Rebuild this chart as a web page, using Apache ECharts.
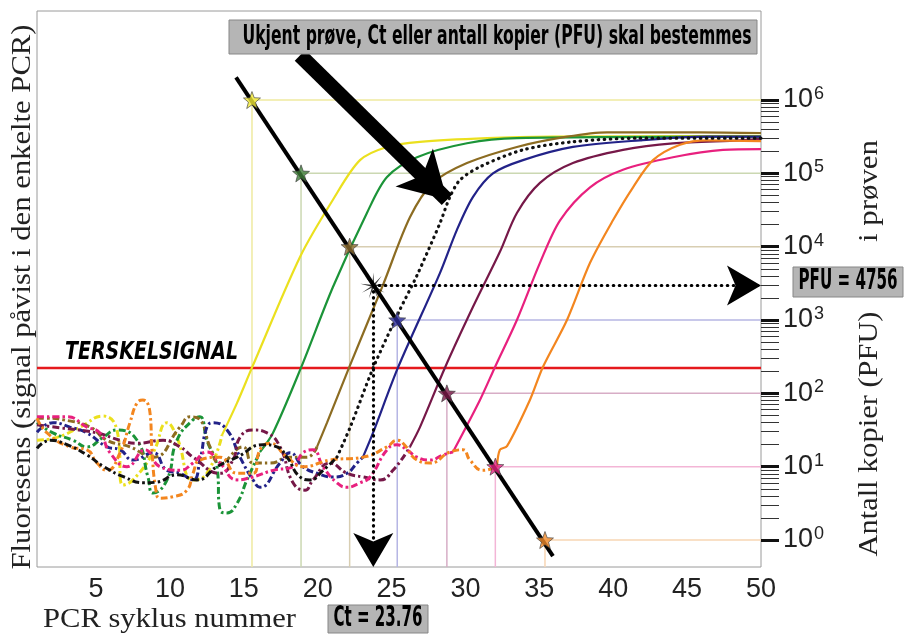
<!DOCTYPE html>
<html><head><meta charset="utf-8">
<script src="https://cdn.jsdelivr.net/npm/echarts@6/dist/echarts.min.js"></script>
<style>html,body{margin:0;padding:0;background:#fff}#c{width:906px;height:634px}</style>
</head><body><div id="c"></div>
<script>
// ================= DATA (cycle number, log10 of copies / fluorescence) =================
const cycleTicks = [5, 10, 15, 20, 25, 30, 35, 40, 45, 50];
const decadeTicks = [0, 1, 2, 3, 4, 5, 6];           // right axis: 10^0 .. 10^6
const stdLog = [6, 5, 4, 3, 2, 1, 0];                 // standards: 10^6 .. 10^0 copies
const stdCt = [15.55, 18.87, 22.16, 25.38, 28.74, 32.02, 35.38];
const unknownCt = 23.76;
const unknownLog = 3.47;
const thresholdLog = 2.345;
const stdLineCt = [14.47, 35.92];
const stdLineLog = [6.31, -0.22];
const bigArrowCt = [18.80, 28.75];
const bigArrowLog = [6.61, 4.64];

const yellowNoise = [[1.00,1.36],[2.35,1.40],[3.91,1.54],[5.47,1.69],[6.41,1.50],[6.82,0.75],[7.50,0.82],[8.85,1.19],[9.80,1.60],[10.47,1.40],[11.56,0.82],[12.50,0.91],[13.52,1.43]];
const yellowRise = [[13.52,1.43],[14.54,1.87],[15.55,2.35],[18.80,3.86],[21.03,4.64],[22.86,5.18],[24.69,5.36],[26.92,5.43],[31.46,5.48],[35.92,5.50],[50,5.51]];
const greenNoise = [[1.00,1.60],[2.08,1.46],[3.44,1.36],[4.38,1.27],[5.47,1.40],[6.41,1.50],[7.77,1.36],[8.51,0.86],[8.85,0.64],[9.80,0.82],[10.47,1.36],[11.56,1.64],[12.03,1.68],[12.50,1.36],[13.18,1.00],[13.38,0.41],[13.86,0.37],[14.54,0.50],[15.21,0.82],[16.09,1.20]];
const greenRise = [[16.09,1.20],[16.97,1.46],[18.87,2.35],[21.03,3.45],[23.33,4.46],[24.69,4.95],[26.72,5.22],[30.10,5.41],[33.48,5.48],[50,5.50]];
const brownNoise = [[1.00,1.66],[1.68,1.66],[2.76,1.64],[4.59,1.54],[5.74,1.36],[7.29,1.27],[8.85,1.13],[10.68,1.54],[11.35,1.68],[12.03,1.64],[12.71,1.27],[13.38,1.05],[14.94,1.27],[15.62,1.05],[16.77,1.05],[18.12,1.13],[19.27,1.13],[19.95,1.27]];
const brownRise = [[19.95,1.27],[20.63,1.60],[22.12,2.35],[24.42,3.48],[26.24,4.40],[27.80,4.87],[30.10,5.14],[33.48,5.36],[36.87,5.50],[39.58,5.56],[45.87,5.56],[50,5.55]];
const unknownNoise = [[1.00,1.25],[1.88,1.36],[3.03,1.30],[4.38,1.16],[5.53,1.00],[6.89,0.86],[8.24,0.78],[9.12,0.79],[10.47,0.89],[11.83,0.82],[13.18,1.00],[14.54,1.13],[16.30,1.30],[17.24,1.27],[17.92,1.13],[18.80,0.86],[19.48,0.82],[20.36,0.95],[21.30,1.13]];
const unknownRise = [[21.30,1.13],[22.18,1.53],[23.76,2.35],[25.56,3.14],[26.72,3.61],[28.27,4.32],[28.95,4.68],[29.63,4.91],[30.98,5.09],[33.89,5.32],[37.27,5.43],[41.81,5.48],[50,5.48]];
const blueNoise = [[1.00,1.47],[2.08,1.60],[3.23,1.54],[4.38,1.46],[5.74,1.27],[6.62,1.23],[7.50,1.09],[8.85,1.19],[9.80,0.95],[10.68,0.91],[11.56,0.82],[12.03,1.09],[12.50,1.54],[12.91,1.60],[13.86,1.50],[14.74,1.13],[15.62,0.82],[16.09,0.72],[17.45,1.05],[18.12,1.19],[19.00,1.00],[19.95,0.91],[21.03,0.86],[21.98,0.91],[22.66,1.05],[23.06,1.13]];
const blueRise = [[23.06,1.13],[23.74,1.46],[25.43,2.35],[28.27,3.64],[29.42,4.23],[30.51,4.68],[31.86,5.00],[33.89,5.18],[37.27,5.36],[41.81,5.45],[46.34,5.50],[50,5.50]];
const maroonNoise = [[1.00,1.57],[2.56,1.53],[5.06,1.46],[6.62,1.36],[7.77,1.32],[9.53,1.36],[10.68,1.27],[11.56,1.13],[13.38,0.91],[14.26,1.09],[14.74,1.40],[15.62,1.50],[16.57,1.46],[17.45,1.27],[18.33,0.78],[19.14,0.68],[19.68,0.82],[20.83,1.05],[21.98,0.91],[23.06,0.86],[24.21,0.82],[25.09,0.95],[26.24,1.27]];
const maroonRise = [[26.24,1.27],[26.92,1.54],[28.61,2.35],[30.51,3.18],[32.33,3.93],[33.48,4.46],[35.04,4.87],[37.27,5.14],[40.66,5.32],[44.04,5.41],[48.58,5.45],[50,5.47]];
const pinkNoise = [[1.00,1.68],[3.03,1.68],[4.38,1.54],[5.26,1.46],[5.94,1.19],[7.09,1.00],[8.31,1.23],[9.32,1.00],[10.68,0.95],[11.56,1.05],[12.50,1.20],[13.38,1.05],[14.54,0.82],[15.62,0.86],[16.97,0.95],[18.33,1.00],[19.00,1.19],[19.68,1.23],[20.36,1.00],[21.30,0.78],[21.98,0.72],[22.86,0.78],[23.54,0.86],[24.69,1.23],[25.36,1.30],[26.04,1.23],[26.72,1.13],[27.60,1.09],[28.48,1.16],[29.15,1.20]];
const pinkRise = [[29.15,1.20],[30.98,1.91],[32.00,2.36],[33.48,3.00],[35.04,3.78],[36.40,4.36],[38.43,4.81],[40.66,5.05],[44.04,5.22],[47.43,5.32],[50,5.33]];
const orangeNoise = [[1.00,1.66],[1.68,1.46],[3.23,1.27],[4.38,1.23],[5.06,1.05],[5.74,0.95],[6.62,1.19],[7.29,1.60],[7.77,1.87],[8.17,1.91],[8.65,1.73],[8.78,1.23],[9.05,0.68],[9.32,0.57],[10.20,0.59],[11.15,0.68],[11.56,0.91],[12.03,1.09],[13.38,1.13],[14.54,0.91],[15.62,0.91],[16.09,1.23],[16.77,1.32],[17.92,1.13],[19.00,1.00],[20.83,1.09],[23.06,1.13],[24.69,1.27],[25.36,1.36],[25.77,1.32],[26.72,1.09],[27.60,1.05],[28.95,1.20],[29.83,1.23],[30.30,1.09],[31.18,0.95],[32.13,1.00]];
const orangeRise = [[32.13,1.00],[32.33,1.23],[32.81,1.28],[34.36,1.91],[35.24,2.36],[36.87,3.00],[38.43,3.78],[39.98,4.36],[41.34,4.81],[42.69,5.18],[44.52,5.39],[46.34,5.45],[50,5.44]];

// ================= STYLE =================
const yMin = -0.368, yMax = 7.214, xMin = 1, xMax = 50;
const curves = [
  {c:'#ebe01e', noise:yellowNoise, rise:yellowRise},
  {c:'#1b9438', noise:greenNoise, rise:greenRise},
  {c:'#8c6c22', noise:brownNoise, rise:brownRise},
  {c:'#222288', noise:blueNoise, rise:blueRise},
  {c:'#761848', noise:maroonNoise, rise:maroonRise},
  {c:'#e8207e', noise:pinkNoise, rise:pinkRise},
  {c:'#f3861f', noise:orangeNoise, rise:orangeRise},
  {c:'#111111', noise:unknownNoise, rise:unknownRise, dotted:true}
];
const starColors = ['#f2ea36','#3f7d38','#8c6b2e','#2b2b98','#7a1a48','#e2207f','#f08a2a'];
const guideColors = ['#efeaa0','#cbd8b2','#d8ceb2','#b6b6e4','#d7adc6','#f3b5d6','#f8d6b4'];
const labelFont = "'Liberation Sans Narrow','Liberation Sans',Arial,sans-serif";
const serifFont = "'Liberation Serif','DejaVu Serif',serif";
const boxFont = "'DejaVu Sans Condensed','DejaVu Sans',sans-serif";

const starPath = 'path://M50 0 L62.34 33.01 L97.55 34.55 L69.97 56.49 L79.39 90.45 L50 71 L20.61 90.45 L30.03 56.49 L2.45 34.55 L37.66 33.01 Z';
function burst(n, R, r) {
  let d = '';
  for (let i = 0; i < 2 * n; i++) {
    const a = Math.PI * i / n - Math.PI / 2, rr = i % 2 ? r : R;
    d += (i ? 'L' : 'M') + (50 + rr * Math.cos(a)).toFixed(2) + ' ' + (50 + rr * Math.sin(a)).toFixed(2) + ' ';
  }
  return 'path://' + d + 'Z';
}
const minorTicks = [];
for (let n = 0; n < 6; n++) for (let k = 2; k <= 9; k++) minorTicks.push(n + Math.log10(k));

function arrowLine(from, to, size) {
  return [{coord:from, symbol:'none'}, {coord:to, symbol:'arrow', symbolSize:size}];
}

const series = [];
stdCt.forEach((ct, i) => series.push({
  type:'line', silent:true, symbol:'none', z:1,
  data:[[ct, yMin],[ct, stdLog[i]],[xMax, stdLog[i]]],
  lineStyle:{color:guideColors[i], width:1.5}
}));
series.push({type:'line', silent:true, symbol:'none', z:2,
  data:[[xMin, thresholdLog],[xMax, thresholdLog]], lineStyle:{color:'#e5191d', width:2.5}});
curves.forEach(cv => {
  series.push({type:'line', silent:true, symbol:'none', z:3, smooth:0.5, data:cv.noise,
    lineStyle:{color:cv.c, width:3, type:[7,3,2.5,3]}});
  series.push({type:'line', silent:true, symbol:'none', z:3, smooth:0.3, data:cv.rise,
    lineStyle: cv.dotted ? {color:cv.c, width:3.2, type:[0.5,5.5], cap:'round'} : {color:cv.c, width:2.2}});
});
series.push({type:'line', silent:true, symbol:'none', z:5,
  data:[[stdLineCt[0], stdLineLog[0]],[stdLineCt[1], stdLineLog[1]]],
  lineStyle:{color:'#000', width:4}});
series.push({type:'line', silent:true, data:[], z:6,
  markLine:{silent:true, animation:false, symbol:['none','arrow'], symbolSize:32,
    label:{show:false}, emphasis:{disabled:true},
    lineStyle:{color:'#000', width:3.2, type:[0.5,5.5], cap:'round'},
    data:[
      arrowLine([unknownCt, unknownLog], [xMax, unknownLog], [30, 34]),
      arrowLine([unknownCt, unknownLog], [unknownCt, yMin], [30, 34])
    ]}});
series.push({type:'scatter', silent:true, z:7, symbol:starPath, symbolSize:17,
  itemStyle:{borderColor:'#3a3a3a', borderWidth:0.8},
  data: stdCt.map((ct, i) => ({value:[ct, stdLog[i]], itemStyle:{color:starColors[i]}}))});
series.push({type:'scatter', silent:true, z:7, symbol:burst(9, 50, 9), symbolSize:26,
  itemStyle:{color:'#000'}, data:[[unknownCt, unknownLog]]});
series.push({type:'line', silent:true, data:[], z:8,
  markLine:{silent:true, animation:false, symbol:['none','arrow'], symbolSize:36,
    label:{show:false}, emphasis:{disabled:true},
    lineStyle:{color:'#000', width:15, type:'solid'},
    data:[arrowLine([bigArrowCt[0], bigArrowLog[0]], [bigArrowCt[1], bigArrowLog[1]], [40, 46])]}});

const chart = echarts.init(document.getElementById('c'), null, {renderer:'canvas'});

function fit(text, font, w) {
  const ctx = document.createElement('canvas').getContext('2d');
  ctx.font = font;
  return w / ctx.measureText(text).width;
}
function txt(text, x, y, font, w, opt) {
  opt = opt || {};
  const align = opt.align || 'center';
  return {type:'text', x:x, y:y, rotation:opt.rot || 0, scaleX:fit(text, font, w), z:opt.z || 100,
    style:{text:text, font:font, fill:opt.fill || '#000', align:align, textAlign:align,
      verticalAlign:'middle', textVerticalAlign:'middle'}};
}
const T1 = 'Ukjent prøve, Ct eller antall kopier (PFU) skal bestemmes';
const fBox = "bold 26px " + boxFont;
const fBox2 = "bold 28px " + boxFont;
const fSerif = "28px " + serifFont;
const graphic = [
  {type:'rect', z:99, shape:{x:229, y:20, width:528, height:34}, style:{fill:'#b5b5b5', stroke:'#878787', lineWidth:1}},
  txt(T1, 497, 37, fBox, 509),
  {type:'rect', z:99, shape:{x:793, y:267, width:110, height:30}, style:{fill:'#b5b5b5', stroke:'#878787', lineWidth:1}},
  txt('PFU = 4756', 848, 282, fBox2, 99),
  {type:'rect', z:99, shape:{x:328, y:605, width:100, height:28}, style:{fill:'#b5b5b5', stroke:'#878787', lineWidth:1}},
  txt('Ct = 23.76', 378, 619, fBox2, 89),
  txt('TERSKELSIGNAL', 65, 353, "italic 900 24px 'DejaVu Sans',sans-serif", 173, {align:'left'}),
  txt('PCR syklus nummer', 43, 620, fSerif, 253, {align:'left', fill:'#222'}),
  txt('Fluoresens (signal påvist i den enkelte PCR)', 23, 297, fSerif, 545, {rot:Math.PI/2, fill:'#222'}),
  txt('Antall kopier (PFU)', 870, 434, fSerif, 245, {rot:Math.PI/2, fill:'#222'}),
  txt('i prøven', 870, 191, fSerif, 102, {rot:Math.PI/2, fill:'#222'})
];

chart.setOption({
  animation:false,
  backgroundColor:'#fff',
  grid:{left:37, right:145, top:11, bottom:67, show:true, borderColor:'#9a9a9a', borderWidth:1, backgroundColor:'transparent'},
  xAxis:{type:'value', min:xMin, max:xMax,
    axisLine:{show:false}, axisTick:{show:false}, splitLine:{show:false},
    axisLabel:{customValues:cycleTicks, margin:9, fontSize:27, fontFamily:labelFont, color:'#222'}},
  yAxis:[
    {type:'value', position:'right', min:yMin, max:yMax,
      axisLine:{show:false}, splitLine:{show:false},
      axisTick:{show:true, customValues:decadeTicks, inside:false, length:18, lineStyle:{color:'#111', width:3}},
      axisLabel:{show:true, customValues:decadeTicks, margin:22,
        formatter: v => '{b|10}{e|' + v + '}',
        rich:{b:{fontSize:27, fontFamily:labelFont, color:'#222'},
              e:{fontSize:18, fontFamily:labelFont, color:'#222', verticalAlign:'top', padding:[0,0,12,1]}}}},
    {type:'value', position:'right', min:yMin, max:yMax,
      axisLine:{show:false}, splitLine:{show:false}, axisLabel:{show:false},
      axisTick:{show:true, customValues:minorTicks, inside:false, length:18, lineStyle:{color:'#333', width:1}}}
  ],
  graphic: graphic,
  series: series
});
</script></body></html>
